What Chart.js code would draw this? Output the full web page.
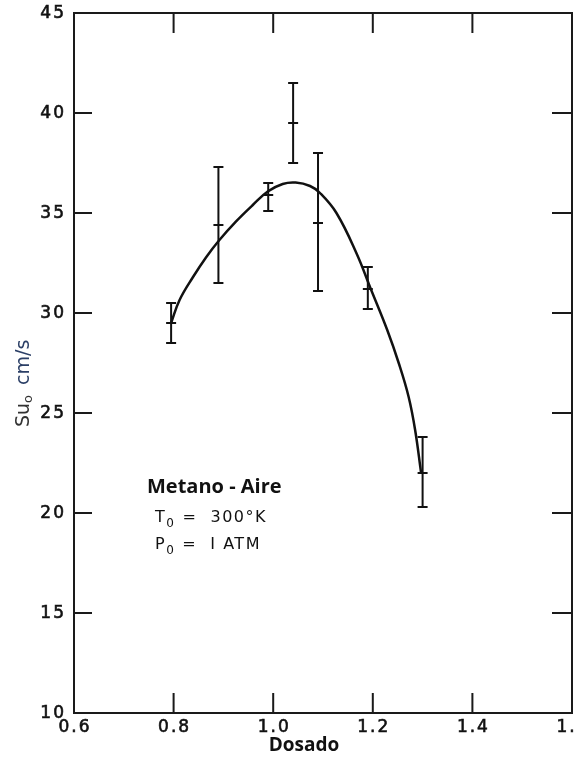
<!DOCTYPE html>
<html>
<head>
<meta charset="utf-8">
<script src="https://cdn.jsdelivr.net/npm/chart.js@4.4.1/dist/chart.umd.min.js"></script>
<style>
  html, body { margin: 0; padding: 0; background: #fff; overflow: hidden; }
  #wrap { width: 579px; height: 760px; position: relative; }
</style>
</head>
<body>
<div id="wrap"><canvas id="chart"></canvas></div>
<script>
// measured points (Dosado vs Su0) with error bars
const dosado = [0.795, 0.89, 0.99, 1.04, 1.09, 1.19, 1.30];
const su = [29.5, 34.4, 35.9, 39.5, 34.5, 31.2, 22.0];
const errHigh = [30.5, 37.3, 36.5, 41.5, 38.0, 32.3, 23.8];
const errLow = [28.5, 31.5, 35.1, 37.5, 31.1, 30.2, 20.3];

// fitted curve
const curveX = [0.795, 0.812, 0.839, 0.865, 0.892, 0.925, 0.959, 0.989, 1.019, 1.045, 1.074, 1.094, 1.127, 1.167, 1.196, 1.229, 1.252, 1.272, 1.285, 1.297];
const curveY = [29.5, 30.65, 31.8, 32.78, 33.65, 34.57, 35.4, 36.07, 36.45, 36.52, 36.35, 36.0, 35.0, 33.0, 31.2, 29.15, 27.5, 25.8, 24.15, 22.0];

// axis ticks
const xTicks = [0.6, 0.8, 1.0, 1.2, 1.4, 1.6];
const yTicks = [10, 15, 20, 25, 30, 35, 40, 45];

const INK = '#111';
const TICK_FONT = '17px "DejaVu Sans"';

// draw text pieces in a row, some as subscripts
function drawPieces(ctx, pieces, x, y) {
    let cx = x;
    pieces.forEach(function(p) {
        ctx.font = p.font;
        if (p.color) ctx.fillStyle = p.color;
        ctx.fillText(p.text, cx, y + (p.dy || 0));
        cx += ctx.measureText(p.text).width + (p.gap || 0);
    });
}

// slightly heavier text, like the scanned print
function boldish(ctx, text, x, y) {
    ctx.fillText(text, x, y);
    ctx.strokeText(text, x, y);
}

const framePlugin = {
    id: 'frame',
    afterDatasetsDraw(chart) {
        const ctx = chart.ctx;
        const xs = chart.scales.x, ys = chart.scales.y;
        ctx.save();
        ctx.strokeStyle = '#111';
        ctx.lineWidth = 2;
        // error bars
        dosado.forEach(function(d, i) {
            const px = xs.getPixelForValue(d);
            const top = ys.getPixelForValue(errHigh[i]);
            const bot = ys.getPixelForValue(errLow[i]);
            ctx.beginPath();
            ctx.moveTo(px, top); ctx.lineTo(px, bot);
            ctx.moveTo(px - 5, top); ctx.lineTo(px + 5, top);
            ctx.moveTo(px - 5, bot); ctx.lineTo(px + 5, bot);
            ctx.stroke();
        });
        ctx.restore();
    },
    afterDraw(chart) {
        const ctx = chart.ctx;
        const a = chart.chartArea;
        const xs = chart.scales.x, ys = chart.scales.y;
        ctx.save();
        ctx.strokeStyle = '#1a1a1a';
        ctx.lineWidth = 2;
        ctx.strokeRect(a.left, a.top, a.right - a.left, a.bottom - a.top);

        // inward ticks on all four sides
        ctx.beginPath();
        yTicks.slice(1, -1).forEach(function(v) {
            const py = ys.getPixelForValue(v);
            ctx.moveTo(a.left, py); ctx.lineTo(a.left + 18, py);
            ctx.moveTo(a.right - 20, py); ctx.lineTo(a.right, py);
        });
        xTicks.slice(1, -1).forEach(function(v) {
            const px = xs.getPixelForValue(v);
            ctx.moveTo(px, a.bottom); ctx.lineTo(px, a.bottom - 20);
            ctx.moveTo(px, a.top); ctx.lineTo(px, a.top + 20);
        });
        ctx.stroke();

        // tick labels
        ctx.fillStyle = INK;
        ctx.strokeStyle = INK;
        ctx.lineWidth = 0.6;
        ctx.font = TICK_FONT;
        ctx.letterSpacing = '2px';
        ctx.textAlign = 'right';
        ctx.textBaseline = 'middle';
        yTicks.forEach(function(v) {
            boldish(ctx, String(v), a.left - 8, ys.getPixelForValue(v) + 1);
        });
        ctx.textAlign = 'center';
        xTicks.forEach(function(v) {
            boldish(ctx, v.toFixed(1), xs.getPixelForValue(v) + 1, a.bottom + 15);
        });
        ctx.letterSpacing = '0px';

        // axis titles
        ctx.fillStyle = '#111';
        ctx.font = 'bold 19px "Open Sans"';
        ctx.fillText('Dosado', 304, 746);

        ctx.save();
        ctx.translate(24, 378);
        ctx.rotate(-Math.PI / 2);
        ctx.textAlign = 'left';
        drawPieces(ctx, [
            { text: 'Su', font: '19px "DejaVu Sans"', color: '#333' },
            { text: 'o', font: '13px "DejaVu Sans"', dy: 5, gap: 10 },
            { text: 'cm/s', font: '19px "DejaVu Sans"', color: '#2b3f66' }
        ], -49, 0);
        ctx.restore();

        // annotation
        ctx.textAlign = 'left';
        ctx.fillStyle = '#111';
        ctx.font = 'bold 20px "Open Sans"';
        ctx.fillText('Metano - Aire', 147, 487);
        ctx.fillStyle = INK;
        ctx.letterSpacing = '1.5px';
        drawPieces(ctx, [
            { text: 'T', font: '16px "DejaVu Sans"' },
            { text: '0', font: '12px "DejaVu Sans"', dy: 6, gap: 7 },
            { text: '=  300°K', font: '16px "DejaVu Sans"' }
        ], 155, 518);
        drawPieces(ctx, [
            { text: 'P', font: '16px "DejaVu Sans"' },
            { text: '0', font: '12px "DejaVu Sans"', dy: 6, gap: 7 },
            { text: '=  I ATM', font: '16px "DejaVu Sans"' }
        ], 155, 545);
        ctx.restore();
    }
};

const ctx = document.getElementById('chart').getContext('2d');
new Chart(ctx, {
    type: 'scatter',
    data: {
        datasets: [{
            label: 'curva',
            data: curveX.map(function(x, i) { return { x: x, y: curveY[i] }; }),
            showLine: true,
            borderColor: '#111',
            borderWidth: 2.5,
            tension: 0.4,
            pointRadius: 0
        }, {
            label: 'medidas',
            data: dosado.map(function(x, i) { return { x: x, y: su[i] }; }),
            pointStyle: 'line',
            pointRadius: 5,
            borderColor: '#111',
            borderWidth: 2,
            backgroundColor: '#111'
        }]
    },
    options: {
        responsive: true,
        maintainAspectRatio: false,
        animation: false,
        layout: { padding: { top: 13, right: 0, left: 0, bottom: 0 } },
        plugins: {
            legend: { display: false },
            tooltip: { enabled: false }
        },
        scales: {
            x: {
                type: 'linear',
                min: 0.6,
                max: 1.6,
                grid: { display: false },
                border: { display: false },
                ticks: { display: false },
                afterFit: function(s) { s.height = 47; }
            },
            y: {
                min: 10,
                max: 45,
                grid: { display: false },
                border: { display: false },
                ticks: { display: false },
                afterFit: function(s) { s.width = 74; }
            }
        }
    },
    plugins: [framePlugin]
});
</script>
</body>
</html>
